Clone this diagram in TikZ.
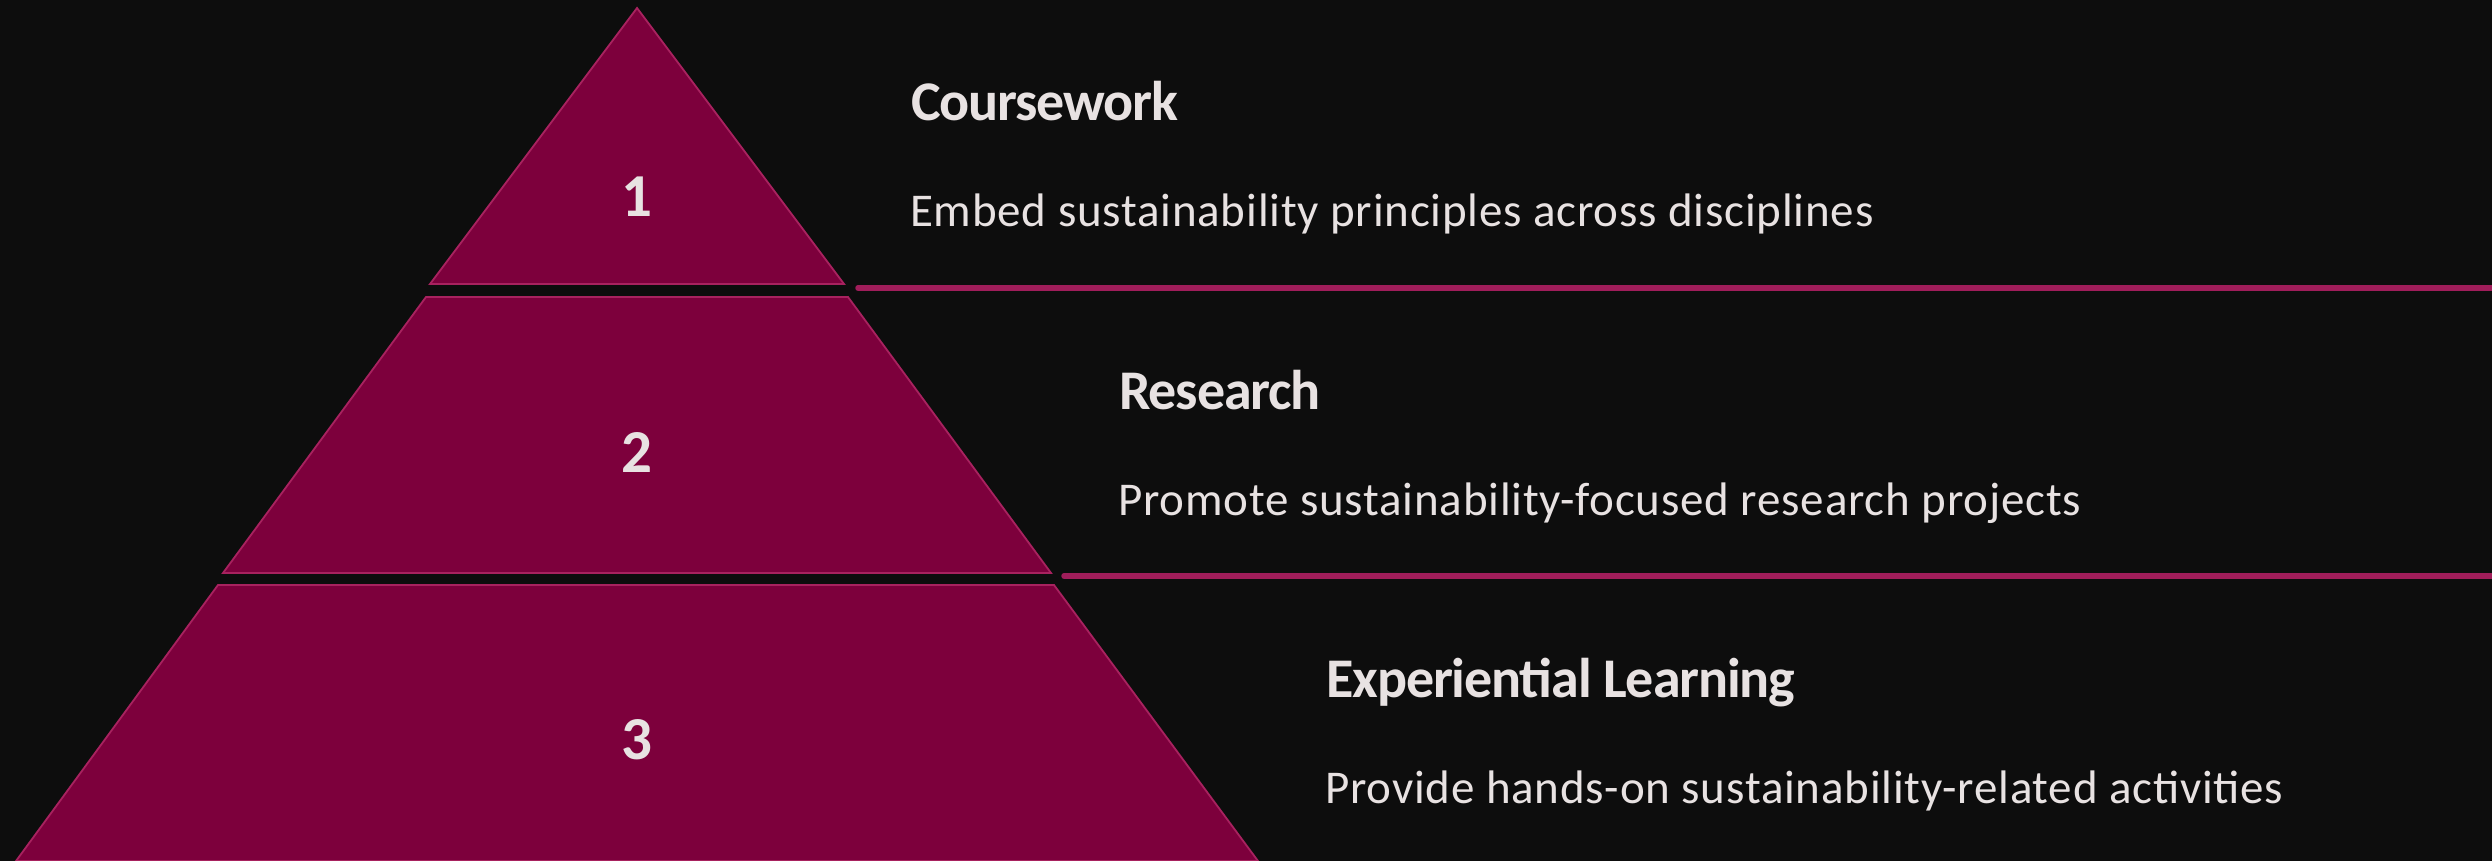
\documentclass[tikz,border=0pt]{standalone}
\usepackage{fontspec}
\setmainfont{Carlito}
\newfontfamily\titlefont[LetterSpace=-2]{Carlito}
\newfontfamily\descfont[LetterSpace=1.7]{Carlito}
\definecolor{bgc}{HTML}{0D0D0D}
\definecolor{tierfill}{HTML}{7D003C}
\definecolor{tierline}{HTML}{A8225F}
\definecolor{sepc}{HTML}{A01D5A}
\definecolor{txtc}{HTML}{E8E2E2}
\begin{document}
\begin{tikzpicture}[x=1pt,y=-1pt]
\tikzset{
  tier/.style={fill=tierfill,draw=tierline,line width=1.8pt,line join=miter},
  sepline/.style={draw=sepc,line width=5.5pt,line cap=round},
  numlabel/.style={text=txtc,font=\fontsize{61}{62}\selectfont\bfseries,inner sep=0pt,anchor=center},
  titletext/.style={text=txtc,font=\titlefont\fontsize{56}{60}\selectfont\bfseries,inner sep=0pt,anchor=base west},
  desctext/.style={text=txtc,font=\descfont\fontsize{47}{50}\selectfont,inner sep=0pt,anchor=base west}
}
\fill[bgc] (0,0) rectangle (2492,861);
\useasboundingbox (0,0) rectangle (2492,861);
\clip (0,0) rectangle (2492,861);
% tiers
\draw[tier] (637,8) -- (844,284) -- (430,284) -- cycle;
\draw[tier] (426,297) -- (848,297) -- (1051,573) -- (223,573) -- cycle;
\draw[tier] (218,585) -- (1054,585) -- (1258,861) -- (16,861) -- cycle;
% separator lines
\coordinate (s1a) at (858,288);
\coordinate (s1b) at (2500,288);
\coordinate (s2a) at (1064,576);
\coordinate (s2b) at (2500,576);
\draw[sepline] (s1a) -- (s1b);
\draw[sepline] (s2a) -- (s2b);
% numbers
\node[numlabel] (n1) at (637,197) {1};
\node[numlabel] (n2) at (637,452) {2};
\node[numlabel] (n3) at (637,740) {3};
% texts
\node[titletext] (t1) at (911,120.5) {Coursework};
\node[desctext] (d1) at (910,226) {Embed sustainability principles across disciplines};
\node[titletext] (t2) at (1119,409) {Research};
\node[desctext] (d2) at (1118,515) {Promote sustainability-focused research projects};
\node[titletext] (t3) at (1326,697) {Experiential Learning};
\node[desctext] (d3) at (1325,803) {Provide hands-on sustainability-related activities};
\end{tikzpicture}
\end{document}
